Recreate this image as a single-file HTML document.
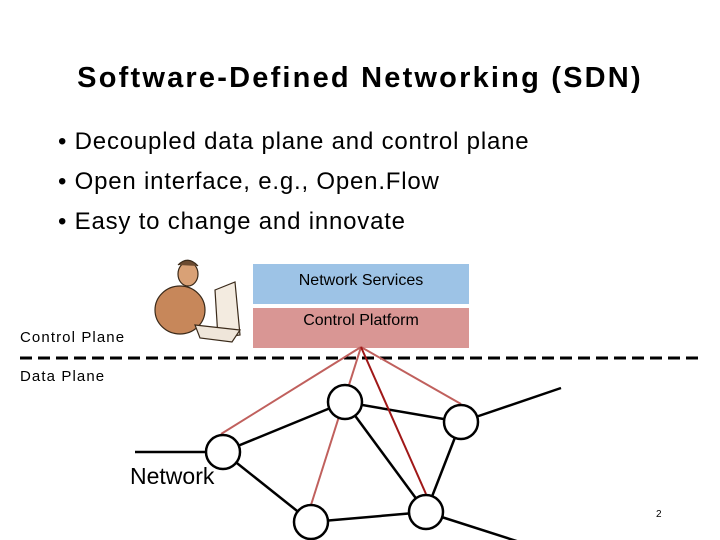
<!DOCTYPE html>
<html><head><meta charset="utf-8"><style>
body{margin:0;width:720px;height:540px;background:#fff;position:relative;overflow:hidden;font-family:"Liberation Sans",sans-serif;}
.t{position:absolute;white-space:nowrap;color:#000;}
</style></head><body>
<div class="t" style="left:0;width:720px;text-align:center;top:62px;font-size:29px;font-weight:bold;letter-spacing:2.2px;">Software-Defined Networking (SDN)</div>
<div class="t" style="left:58px;top:128px;font-size:24px;letter-spacing:0.8px;">•&nbsp;Decoupled data plane and control plane</div>
<div class="t" style="left:58px;top:168px;font-size:24px;letter-spacing:0.8px;">•&nbsp;Open interface, e.g., Open.Flow</div>
<div class="t" style="left:58px;top:208px;font-size:24px;letter-spacing:0.8px;">•&nbsp;Easy to change and innovate</div>
<div style="position:absolute;left:253px;top:264px;width:216px;height:40px;background:#9dc3e6;"></div>
<div class="t" style="left:253px;width:216px;text-align:center;top:272px;font-size:16px;">Network Services</div>
<div style="position:absolute;left:253px;top:308px;width:216px;height:40px;background:#d99694;"></div>
<div class="t" style="left:253px;width:216px;text-align:center;top:312px;font-size:16px;">Control Platform</div>
<div class="t" style="left:20px;top:329px;font-size:15px;letter-spacing:1.1px;">Control Plane</div>
<div class="t" style="left:20px;top:368px;font-size:15px;letter-spacing:1.1px;">Data Plane</div>
<div class="t" style="left:130px;top:463px;font-size:23px;">Network</div>
<div class="t" style="left:656px;top:509px;font-size:10px;">2</div>
<svg width="720" height="540" style="position:absolute;left:0;top:0">
<line x1="20" y1="358" x2="700" y2="358" stroke="#000" stroke-width="3" stroke-dasharray="12,6"/>
<g stroke="#000" stroke-width="2.5" fill="none">
<line x1="135" y1="452" x2="223" y2="452"/>
<line x1="461" y1="422" x2="561" y2="388"/>
<line x1="426" y1="512" x2="557" y2="554"/>
<line x1="223" y1="452" x2="345" y2="402"/>
<line x1="345" y1="402" x2="461" y2="422"/>
<line x1="345" y1="402" x2="426" y2="512"/>
<line x1="461" y1="422" x2="426" y2="512"/>
<line x1="223" y1="452" x2="311" y2="522"/>
<line x1="311" y1="522" x2="426" y2="512"/>
</g>
<g stroke="#c0605d" stroke-width="2">
<line x1="361" y1="347" x2="221" y2="434"/>
<line x1="361" y1="347" x2="311" y2="505"/>
<line x1="361" y1="347" x2="461" y2="404"/>
<line x1="361" y1="347" x2="426" y2="494" stroke="#a01818"/>
</g>
<g fill="#fff" stroke="#000" stroke-width="2.5">
<circle cx="223" cy="452" r="17"/>
<circle cx="345" cy="402" r="17"/>
<circle cx="461" cy="422" r="17"/>
<circle cx="311" cy="522" r="17"/>
<circle cx="426" cy="512" r="17"/>
</g>
<g stroke="#3a2a1a" stroke-width="1.2">
<path d="M215 290 L235 282 L240 335 L218 338 Z" fill="#f3ebe0"/>
<ellipse cx="180" cy="310" rx="25" ry="24" fill="#c7875a"/>
<ellipse cx="188" cy="274" rx="10" ry="12" fill="#d9a176"/>
<path d="M178 265 Q188 255 198 266" fill="#6b4a30"/>
<path d="M195 325 L240 330 L232 342 L200 338 Z" fill="#efe6da"/>
</g>
</svg>
</body></html>
